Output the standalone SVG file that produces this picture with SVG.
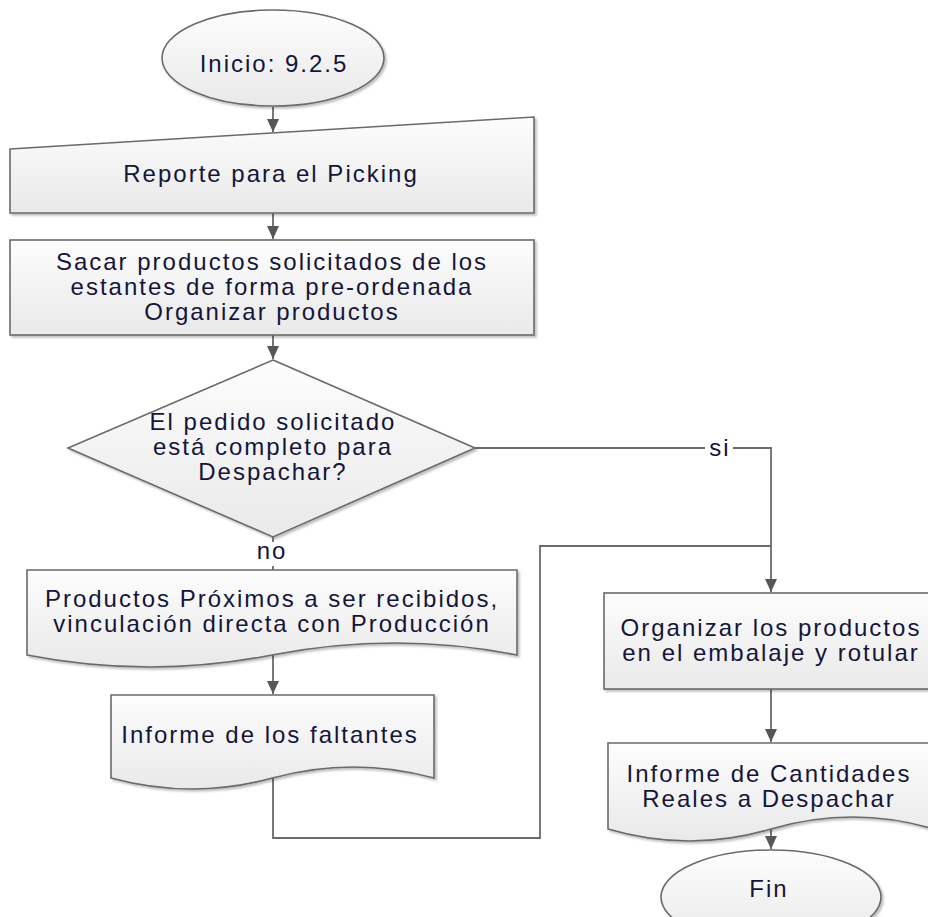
<svg xmlns="http://www.w3.org/2000/svg" width="928" height="917" viewBox="0 0 928 917">
<style>
.shape{fill:url(#g);stroke:#6a6a6a;stroke-width:1.6;filter:url(#sh)}
.t{font-family:"Liberation Sans",Arial,sans-serif;font-size:24px;letter-spacing:2px;fill:#15153a;text-anchor:middle}
.c{fill:none;stroke:#6a6a6a;stroke-width:1.8}
.lbl{fill:#ffffff}
</style>
<defs>
<linearGradient id="g" x1="0" y1="0" x2="0" y2="1">
<stop offset="0" stop-color="#fdfdfd"/>
<stop offset="1" stop-color="#e9e9e9"/>
</linearGradient>
<filter id="sh" x="-10%" y="-10%" width="120%" height="130%">
<feDropShadow dx="2" dy="2" stdDeviation="1.2" flood-color="#000" flood-opacity="0.25"/>
</filter>
<marker id="ah" markerWidth="14" markerHeight="12" refX="13" refY="6" orient="auto" markerUnits="userSpaceOnUse">
<path d="M0,0 L13,6 L0,12 Z" fill="#575757"/>
</marker>
</defs>

<g id="connectors">
<path class="c" d="M273,107 L273,132" marker-end="url(#ah)"/>
<path class="c" d="M273,213 L273,239" marker-end="url(#ah)"/>
<path class="c" d="M273,335 L273,359" marker-end="url(#ah)"/>
<path class="c" d="M273,537 L273,570"/>
<path class="c" d="M273,655 L273,694" marker-end="url(#ah)"/>
<path class="c" d="M273,778 L273,838 L540,838 L540,546 L771,546"/>
<path class="c" d="M475,448 L771,448 L771,592" marker-end="url(#ah)"/>
<path class="c" d="M771,689 L771,742" marker-end="url(#ah)"/>
<path class="c" d="M771,829 L771,849" marker-end="url(#ah)"/>
<rect class="lbl" x="256" y="542" width="32" height="24"/>
<text class="t" x="272" y="559">no</text>
<rect class="lbl" x="705" y="438" width="28" height="20"/>
<text class="t" x="720" y="456">si</text>
</g>

<g id="inicio">
<ellipse class="shape" cx="273" cy="58" rx="111" ry="48"/>
<text class="t" x="274" y="72">Inicio: 9.2.5</text>
</g>

<g id="reporte">
<path class="shape" d="M10,149 L534,117 L534,213 L10,213 Z"/>
<text class="t" x="271" y="182">Reporte para el Picking</text>
</g>

<g id="sacar">
<rect class="shape" x="10" y="240" width="524" height="95"/>
<text class="t" x="272" y="270">Sacar productos solicitados de los</text>
<text class="t" x="272" y="295">estantes de forma pre-ordenada</text>
<text class="t" x="272" y="320">Organizar productos</text>
</g>

<g id="decision">
<path class="shape" d="M273,360 L475,448 L273,537 L68,448 Z"/>
<text class="t" x="273" y="430">El pedido solicitado</text>
<text class="t" x="273" y="455">está completo para</text>
<text class="t" x="273" y="480">Despachar?</text>
</g>

<g id="productos">
<path class="shape" d="M27,570 L517,570 L517,655 Q394.5,631 272,655 T27,655 Z"/>
<text class="t" x="272" y="607">Productos Próximos a ser recibidos,</text>
<text class="t" x="272" y="632">vinculación directa con Producción</text>
</g>

<g id="faltantes">
<path class="shape" d="M111,695 L434,695 L434,778 Q353,756 272.5,778 T111,778 Z"/>
<text class="t" x="270" y="743">Informe de los faltantes</text>
</g>

<g id="organizar">
<rect class="shape" x="604" y="593" width="334" height="96"/>
<text class="t" x="771" y="636">Organizar los productos</text>
<text class="t" x="771" y="661">en el embalaje y rotular</text>
</g>

<g id="cantidades">
<path class="shape" d="M608,743 L934,743 L934,829 Q852.5,805 771,829 T608,829 Z"/>
<text class="t" x="769" y="782">Informe de Cantidades</text>
<text class="t" x="769" y="807">Reales a Despachar</text>
</g>

<g id="fin">
<ellipse class="shape" cx="771" cy="897" rx="110" ry="47"/>
<text class="t" x="769" y="897">Fin</text>
</g>
</svg>
